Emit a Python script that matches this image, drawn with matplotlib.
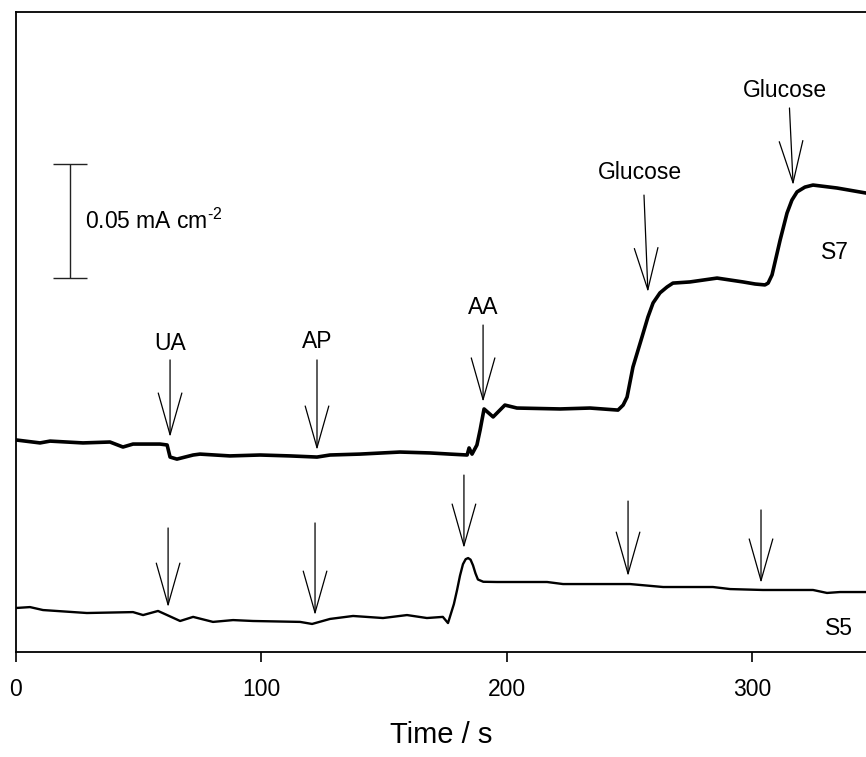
import numpy as np
import matplotlib
matplotlib.use("Agg")
import matplotlib.pyplot as plt

plt.rcParams['font.family'] = ['Liberation Sans', 'DejaVu Sans']
plt.rcParams['mathtext.fontset'] = 'custom'
plt.rcParams['mathtext.rm'] = 'Liberation Sans'

# S7 electrode trace: time (s) and current density (mA cm^-2, offset)
t_s7 = [0, 9.8, 13.9, 27.3, 38.3, 43.6, 47.7, 58.7, 61.6, 62.8, 65.6, 72.2, 75.0,
        87.2, 99.5, 111.7, 122.7, 128.0, 140.2, 156.5, 168.8, 176.9, 183.9, 184.7,
        185.9, 187.9, 189.2, 190.8, 194.5, 199.3, 204.2, 221.8, 234.0, 245.4, 247.5,
        249.1, 251.5, 255.2, 257.6, 259.7, 262.5, 265.4, 267.8, 274.7, 285.8, 296.4,
        301.3, 305.3, 306.6, 308.2, 309.8, 311.5, 314.3, 316.3, 318.4, 321.6, 324.9,
        334.7, 346.5]
i_s7 = [0.0930, 0.0917, 0.0925, 0.0917, 0.0921, 0.0899, 0.0912, 0.0912, 0.0908, 0.0855,
        0.0846, 0.0864, 0.0868, 0.0860, 0.0864, 0.0860, 0.0855, 0.0864, 0.0868, 0.0877,
        0.0873, 0.0868, 0.0864, 0.0895, 0.0868, 0.0908, 0.0974, 0.1066, 0.1031, 0.1083,
        0.1070, 0.1066, 0.1070, 0.1061, 0.1083, 0.1118, 0.1250, 0.1382, 0.1469, 0.1531,
        0.1575, 0.1601, 0.1618, 0.1623, 0.1640, 0.1623, 0.1614, 0.1610, 0.1618, 0.1654,
        0.1728, 0.1807, 0.1925, 0.1982, 0.2018, 0.2039, 0.2048, 0.2035, 0.2013]

# S5 electrode trace
t_s5 = [0, 5.7, 11.0, 28.9, 47.7, 51.8, 57.9, 61.6, 66.9, 72.2, 80.3, 88.5, 96.6,
        115.8, 120.7, 128.0, 137.4, 149.6, 159.4, 167.5, 174.0, 176.1, 178.5, 179.8,
        181.0, 182.2, 183.3, 184.3, 185.3, 186.3, 187.3, 188.3, 190.5, 196.1, 216.5,
        223.0, 250.3, 263.8, 284.1, 291.1, 304.5, 324.9, 330.6, 335.9, 346.5]
i_s5 = [0.0193, 0.0197, 0.0184, 0.0171, 0.0175, 0.0162, 0.0180, 0.0162, 0.0136, 0.0154,
        0.0132, 0.0140, 0.0136, 0.0132, 0.0123, 0.0145, 0.0158, 0.0149, 0.0162, 0.0149,
        0.0154, 0.0127, 0.0210, 0.0272, 0.0335, 0.0385, 0.0407, 0.0412, 0.0405, 0.0380,
        0.0345, 0.0318, 0.0308, 0.0307, 0.0307, 0.0298, 0.0298, 0.0285, 0.0285, 0.0276,
        0.0272, 0.0272, 0.0259, 0.0263, 0.0263]

# injection arrows on S7: label, tip time, top time, tip current, top current, label spot
s7_labels = ['UA', 'AP', 'AA', 'Glucose', 'Glucose']
s7_tip_t = [62.8, 122.7, 190.4, 257.6, 316.8]
s7_top_t = [62.8, 122.7, 190.4, 256.0, 315.3]
s7_tip_i = [0.0943, 0.0886, 0.1097, 0.1579, 0.2048]
s7_top_i = [0.1281, 0.1281, 0.1434, 0.2004, 0.2386]
s7_label_t = [62.8, 122.7, 190.4, 254.4, 313.5]
s7_label_i = [0.1355, 0.1360, 0.1513, 0.2105, 0.2461]

# injection arrows on S5
s5_tip_t = [62.0, 121.9, 182.6, 249.5, 303.7]
s5_tip_i = [0.0197, 0.0162, 0.0456, 0.0333, 0.0303]
s5_top_i = [0.0544, 0.0566, 0.0776, 0.0662, 0.0623]

fig = plt.figure(figsize=(8.66, 7.57), dpi=100)
ax = fig.add_axes([16 / 866, 105 / 757, 1 - 16 / 866, 640 / 757])

ax.plot(t_s7, i_s7, color='black', lw=2.6, solid_joinstyle='round')
ax.plot(t_s5, i_s5, color='black', lw=1.7, solid_joinstyle='round')

arrow_style = '->,head_length=30,head_width=8.5'
for lab, tt, t0, ti, t0i, lt, li in zip(s7_labels, s7_tip_t, s7_top_t, s7_tip_i,
                                       s7_top_i, s7_label_t, s7_label_i):
    ax.annotate('', xy=(tt, ti), xytext=(t0, t0i),
                arrowprops=dict(arrowstyle=arrow_style, mutation_scale=1,
                                lw=0.9, color='black', shrinkA=0, shrinkB=0))
    ax.text(lt, li, lab, ha='center', va='center', fontsize=16.5)

for tt, ti, t0i in zip(s5_tip_t, s5_tip_i, s5_top_i):
    ax.annotate('', xy=(tt, ti), xytext=(tt, t0i),
                arrowprops=dict(arrowstyle=arrow_style, mutation_scale=1,
                                lw=0.9, color='black', shrinkA=0, shrinkB=0))

ax.text(333.9, 0.1754, 'S7', ha='center', va='center', fontsize=16.5)
ax.text(335.5, 0.0105, 'S5', ha='center', va='center', fontsize=16.5)

# scale bar
bar_t, bar_low, bar_len = 22.0, 0.164, 0.05
ax.errorbar([bar_t], [bar_low + bar_len / 2], yerr=[bar_len / 2], color='#222222',
            lw=1.0, capsize=12, capthick=1.0)
ax.text(28.1, bar_low + bar_len / 2, r'0.05 mA cm$^{\text{-2}}$', ha='left', va='center',
        fontsize=16.5)

ax.set_xlim(0, 346.5)
ax.set_ylim(0, 0.2807)
ax.set_xticks([0, 100, 200, 300])
ax.set_yticks([])
ax.tick_params(axis='x', direction='out', length=7, width=1.2, labelsize=16.5, pad=12)
ax.spines['right'].set_visible(False)
for s in ['left', 'top', 'bottom']:
    ax.spines[s].set_linewidth(1.3)
ax.set_xlabel('Time / s', fontsize=21, labelpad=14)

fig.savefig('out.png', dpi=100)
